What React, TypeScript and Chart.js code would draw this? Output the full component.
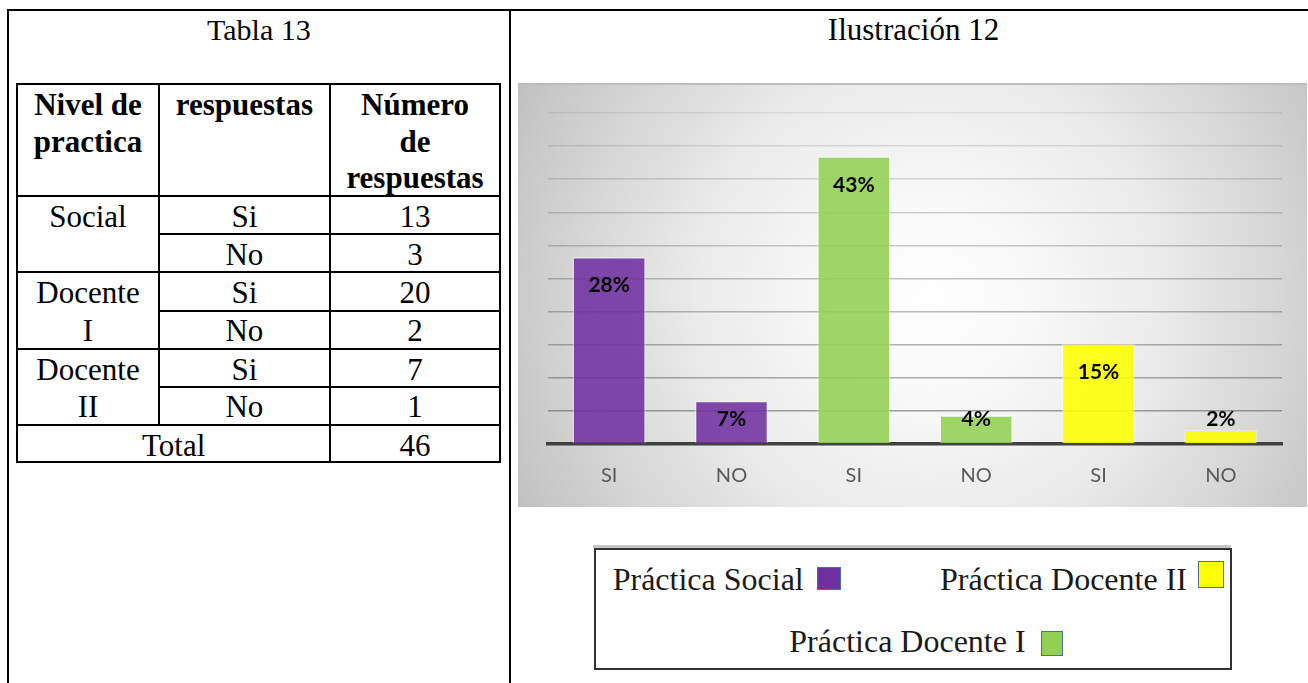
import React, { useEffect, useRef } from "react";
import { Chart, registerables } from "chart.js";

Chart.register(...registerables);

// ---------- Chart data ----------
const categories = ["SI", "NO", "SI", "NO", "SI", "NO"];
const percentValues = [28.26, 6.52, 43.48, 4.35, 15.22, 2.17];
const percentLabels = ["28%", "7%", "43%", "4%", "15%", "2%"];
const seriesNames = ["Práctica Social", "Práctica Docente I", "Práctica Docente II"];
const seriesFill = ["rgba(112,48,160,0.88)", "rgba(146,208,80,0.88)", "rgba(255,255,0,0.88)"];
const seriesSolid = ["#7030A0", "#92D050", "#FFFF00"];
const barSeries = [0, 0, 1, 1, 2, 2];
const yMin = 0;
const yMax = 50;
const yStep = 5;

// ---------- Table data ----------
const tableTitle = "Tabla 13";
const chartTitle = "Ilustración 12";
const tableHeaders = [["Nivel de", "practica"], ["respuestas"], ["Número", "de", "respuestas"]];
const practiceLevels = [["Social"], ["Docente", "I"], ["Docente", "II"]];
const answerLabels = ["Si", "No", "Si", "No", "Si", "No"];
const answerCounts = [13, 3, 20, 2, 7, 1];
const totalLabel = "Total";
const totalCount = 46;

const SERIF = "'Liberation Serif', 'Times New Roman', serif";
const SANS = "Lato, 'Open Sans', sans-serif";

type TProps = {
  x: number;
  y: number; // baseline
  size: number;
  bold?: boolean;
  align?: "center" | "left";
  color?: string;
  children: React.ReactNode;
};

function T({ x, y, size, bold, align = "center", color = "#000", children }: TProps) {
  const top = y - 0.8375 * size;
  const style: React.CSSProperties = {
    position: "absolute",
    top,
    fontFamily: SERIF,
    fontSize: size,
    lineHeight: `${size}px`,
    fontWeight: bold ? 700 : 400,
    whiteSpace: "nowrap",
    color,
  };
  if (align === "center") {
    style.left = x - 300;
    style.width = 600;
    style.textAlign = "center";
  } else {
    style.left = x;
  }
  return <div style={style}>{children}</div>;
}

function HLine({ y, x1, x2, w = 2, color = "#000" }: { y: number; x1: number; x2: number; w?: number; color?: string }) {
  return (
    <div
      style={{ position: "absolute", left: x1 - w / 2, top: y - w / 2, width: x2 - x1 + w, height: w, background: color }}
    />
  );
}

function VLine({ x, y1, y2, w = 2, color = "#000" }: { x: number; y1: number; y2: number; w?: number; color?: string }) {
  return (
    <div
      style={{ position: "absolute", left: x - w / 2, top: y1 - w / 2, width: w, height: y2 - y1 + w, background: color }}
    />
  );
}

function BarChart() {
  const ref = useRef<HTMLCanvasElement>(null);
  useEffect(() => {
    if (!ref.current) return;
    const labelPlugin = {
      id: "pctLabels",
      afterDatasetsDraw(chart: any) {
        const ctx = chart.ctx;
        const meta = chart.getDatasetMeta(0);
        ctx.save();
        ctx.font = `bold 21px ${SANS}`;
        ctx.fillStyle = "#000";
        ctx.textAlign = "center";
        ctx.textBaseline = "alphabetic";
        meta.data.forEach((bar: any, i: number) => {
          const p = bar.getProps(["x", "y", "base"], true);
          const cy = Math.min(p.y + 28, p.base - 25);
          ctx.fillText(percentLabels[i], p.x, cy + 7.5);
        });
        ctx.restore();
      },
    };
    const chart = new Chart(ref.current, {
      type: "bar",
      data: {
        labels: categories,
        datasets: [
          {
            label: "Porcentaje",
            data: percentValues,
            backgroundColor: barSeries.map((s) => seriesFill[s]),
            borderColor: "rgba(255,255,255,0.35)",
            borderWidth: 1.5,
            barPercentage: 0.6,
            categoryPercentage: 1,
          },
        ],
      },
      options: {
        animation: false,
        responsive: true,
        maintainAspectRatio: false,
        layout: { padding: { left: 30, right: 25, top: 30, bottom: 0 } },
        plugins: {
          legend: { display: false },
          tooltip: { enabled: false },
          title: { display: false },
        },
        scales: {
          x: {
            z: 1,
            grid: { display: true, color: "transparent", drawTicks: false },
            border: { display: true, color: "#404040", width: 3.5 },
            ticks: { color: "#595959", font: { family: SANS, size: 20 }, padding: 20 },
            afterFit: (scale: any) => {
              scale.height = 63;
            },
          },
          y: {
            min: yMin,
            max: yMax,
            ticks: { display: false, stepSize: yStep },
            border: { display: false },
            grid: {
              drawTicks: false,
              lineWidth: 1.5,
              color: (ctx: any) => {
                const v = ctx.tick ? ctx.tick.value : 0;
                const a = 0.12 + 0.45 * (1 - v / yMax);
                return `rgba(80,80,80,${a.toFixed(3)})`;
              },
            },
            afterFit: (scale: any) => {
              scale.width = 0;
            },
          },
        },
      },
      plugins: [labelPlugin],
    });
    return () => chart.destroy();
  }, []);
  return <canvas ref={ref} />;
}

export default function App() {
  // table layout (page px)
  const tL = 17.3;
  const c1 = 158.7;
  const c2 = 330;
  const tR = 500;
  const tTop = 84.3;
  const headBottom = 196;
  const rowTops = [196, 234, 272, 310.7, 349, 386.7, 425];
  const tBottom = 462.3;
  const col1C = (tL + c1) / 2;
  const col2C = (c1 + c2) / 2;
  const col3C = (c2 + tR) / 2;
  const headBase = 115;
  const headStep = 36.7;
  const F = 31;

  return (
    <div
      style={{
        position: "absolute",
        left: 0,
        top: 0,
        width: 1308,
        height: 683,
        overflow: "hidden",
        background: "#fff",
      }}
    >
      {/* outer frame */}
      <HLine y={10} x1={7.7} x2={1330} />
      <VLine x={7.7} y1={10} y2={700} />
      <VLine x={510} y1={10} y2={700} />

      {/* titles */}
      <T x={258.9} y={40} size={30}>
        {tableTitle}
      </T>
      <T x={913.5} y={40} size={31}>
        {chartTitle}
      </T>

      {/* table grid */}
      <HLine y={tTop} x1={tL} x2={tR} />
      <HLine y={headBottom} x1={tL} x2={tR} />
      {rowTops.slice(1).map((y, i) => (
        <HLine key={"h" + i} y={y} x1={i % 2 === 0 ? c1 : tL} x2={tR} />
      ))}
      <HLine y={tBottom} x1={tL} x2={tR} />
      <VLine x={tL} y1={tTop} y2={tBottom} />
      <VLine x={c1} y1={tTop} y2={rowTops[6]} />
      <VLine x={c2} y1={tTop} y2={tBottom} />
      <VLine x={tR} y1={tTop} y2={tBottom} />

      {/* header */}
      {tableHeaders.map((lines, ci) =>
        lines.map((ln, li) => (
          <T key={`hd${ci}-${li}`} x={[col1C, col2C, col3C][ci]} y={headBase + li * headStep} size={F} bold>
            {ln}
          </T>
        ))
      )}

      {/* levels */}
      {practiceLevels.map((lines, gi) =>
        lines.map((ln, li) => (
          <T key={`lv${gi}-${li}`} x={col1C} y={rowTops[gi * 2 + li] + 30.5} size={F}>
            {ln}
          </T>
        ))
      )}

      {/* answers and counts */}
      {answerLabels.map((a, i) => (
        <T key={"a" + i} x={col2C} y={rowTops[i] + 30.5} size={F}>
          {a}
        </T>
      ))}
      {answerCounts.map((c, i) => (
        <T key={"c" + i} x={col3C} y={rowTops[i] + 30.5} size={F}>
          {String(c)}
        </T>
      ))}
      <T x={(tL + c2) / 2} y={rowTops[6] + 30.5} size={F}>
        {totalLabel}
      </T>
      <T x={col3C} y={rowTops[6] + 30.5} size={F}>
        {String(totalCount)}
      </T>

      {/* chart panel */}
      <div
        style={{
          position: "absolute",
          left: 518,
          top: 83,
          width: 789,
          height: 424,
          background:
            "radial-gradient(circle at 412px 215px, #ffffff 0px, #f7f7f7 110px, #ebebeb 230px, #cfcfcf 390px, #bdbdbd 480px)",
        }}
      >
        <div style={{ position: "absolute", left: 0, top: 0, width: 789, height: 2, background: "#bdbdbd" }} />
        <div style={{ position: "absolute", left: 0, top: 0, width: 789, height: 424 }}>
          <BarChart />
        </div>
      </div>

      {/* legend box */}
      <div style={{ position: "absolute", left: 593, top: 545, width: 638, height: 3, background: "#c6c6c6" }} />
      <div
        style={{
          position: "absolute",
          left: 594,
          top: 548,
          width: 638,
          height: 122,
          border: "2px solid #333",
          boxSizing: "border-box",
          background: "#fff",
        }}
      />
      <T x={612.7} y={590} size={32} align="left" color="#1a1a1a">
        {seriesNames[0]}
      </T>
      <div
        style={{
          position: "absolute",
          left: 817,
          top: 567,
          width: 24,
          height: 23,
          background: seriesSolid[0],
          border: "1.5px solid #4a6fa5",
          boxSizing: "border-box",
        }}
      />
      <T x={940} y={590} size={32} align="left" color="#1a1a1a">
        {seriesNames[2]}
      </T>
      <div
        style={{
          position: "absolute",
          left: 1198,
          top: 561,
          width: 26,
          height: 27,
          background: seriesSolid[2],
          border: "1.5px solid #4a6fa5",
          boxSizing: "border-box",
        }}
      />
      <T x={789.3} y={651.7} size={32} align="left" color="#1a1a1a">
        {seriesNames[1]}
      </T>
      <div
        style={{
          position: "absolute",
          left: 1041,
          top: 631,
          width: 22,
          height: 25,
          background: seriesSolid[1],
          border: "1.5px solid #4a6fa5",
          boxSizing: "border-box",
        }}
      />
    </div>
  );
}
